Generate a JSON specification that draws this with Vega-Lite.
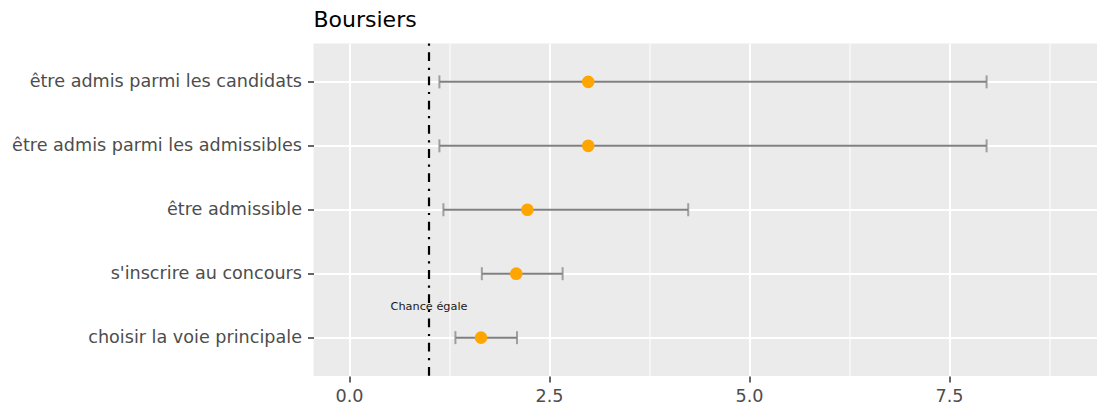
{
  "$schema": "https://vega.github.io/schema/vega-lite/v6.json",
  "width": 783.5,
  "height": 332.5,
  "autosize": {"type": "none"},
  "padding": {"left": 313.5, "top": 43.5, "right": 0, "bottom": 28},
  "background": "white",
  "config": {
    "font": "DejaVu Sans",
    "view": {"fill": "#EBEBEB", "stroke": null}
  },
  "title": {
    "text": "Boursiers",
    "anchor": "start",
    "frame": "group",
    "fontSize": 22,
    "fontWeight": "normal",
    "color": "#000000",
    "font": "DejaVu Sans",
    "offset": 10
  },
  "data": {
    "values": [
      {"label": "être admis parmi les candidats", "est": 2.99, "lo": 1.13, "hi": 7.97},
      {"label": "être admis parmi les admissibles", "est": 2.99, "lo": 1.13, "hi": 7.97},
      {"label": "être admissible", "est": 2.23, "lo": 1.18, "hi": 4.24},
      {"label": "s'inscrire au concours", "est": 2.09, "lo": 1.66, "hi": 2.67},
      {"label": "choisir la voie principale", "est": 1.65, "lo": 1.33, "hi": 2.10}
    ]
  },
  "encoding": {
    "y": {
      "field": "label",
      "type": "nominal",
      "sort": null,
      "scale": {"type": "point", "padding": 0.6},
      "axis": {
        "title": null,
        "domain": false,
        "grid": true,
        "gridColor": "#FFFFFF",
        "gridWidth": 2,
        "ticks": true,
        "tickColor": "#333333",
        "tickSize": 6,
        "tickWidth": 1.5,
        "labelColor": "#4D4D4D",
        "labelFontSize": 17.6,
        "labelPadding": 6,
        "labelFont": "DejaVu Sans",
        "labelLimit": 0
      }
    }
  },
  "layer": [
    {
      "mark": {"type": "rule", "color": "#7F7F7F", "strokeWidth": 2},
      "encoding": {
        "x": {
          "field": "lo",
          "type": "quantitative",
          "scale": {"domain": [-0.444, 9.35], "nice": false, "zero": false},
          "axis": {
            "title": null,
            "values": [0, 1.25, 2.5, 3.75, 5, 6.25, 7.5, 8.75],
            "domain": false,
            "grid": true,
            "gridColor": "#FFFFFF",
            "gridWidth": {"condition": {"test": "datum.value % 2.5 === 0", "value": 2}, "value": 1},
            "tickColor": "#333333",
            "tickOpacity": {"condition": {"test": "datum.value % 2.5 === 0", "value": 1}, "value": 0},
            "tickSize": 6,
            "tickWidth": 1.5,
            "labelExpr": "datum.value % 2.5 === 0 ? format(datum.value, '.1f') : ''",
            "labelColor": "#4D4D4D",
            "labelFontSize": 17.6,
            "labelPadding": 5,
            "labelFont": "DejaVu Sans"
          }
        },
        "x2": {"field": "hi"}
      }
    },
    {
      "mark": {"type": "tick", "color": "#7F7F7F", "thickness": 2, "size": 13, "orient": "vertical"},
      "encoding": {"x": {"field": "lo", "type": "quantitative"}}
    },
    {
      "mark": {"type": "tick", "color": "#7F7F7F", "thickness": 2, "size": 13, "orient": "vertical"},
      "encoding": {"x": {"field": "hi", "type": "quantitative"}}
    },
    {
      "mark": {"type": "circle", "color": "#FFA500", "opacity": 1, "size": 160},
      "encoding": {"x": {"field": "est", "type": "quantitative"}}
    },
    {
      "data": {"values": [{"ref": 1}]},
      "mark": {"type": "rule", "color": "#000000", "strokeWidth": 2.2, "strokeDash": [2.2, 6.6, 8.8, 6.6]},
      "encoding": {"x": {"field": "ref", "type": "quantitative"}, "y": null}
    },
    {
      "data": {"values": [{"ref": 1, "label": "choisir la voie principale", "text": "Chance égale"}]},
      "mark": {"type": "text", "fontSize": 11.3, "color": "#1A1A1A", "dy": -31, "font": "DejaVu Sans"},
      "encoding": {
        "x": {"field": "ref", "type": "quantitative"},
        "text": {"field": "text"}
      }
    }
  ]
}
